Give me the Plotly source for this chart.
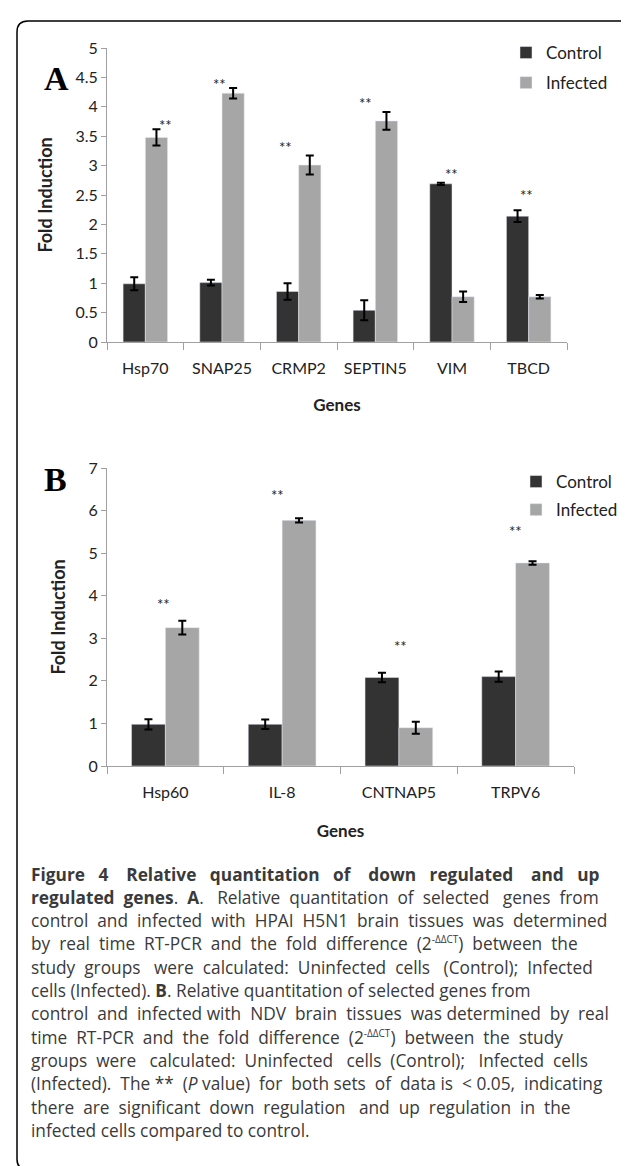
import plotly.graph_objects as go

# ---------------- data ----------------
genes_a = ["Hsp70", "SNAP25", "CRMP2", "SEPTIN5", "VIM", "TBCD"]
control_a = [0.99, 1.01, 0.86, 0.54, 2.69, 2.14]
control_a_err = [0.11, 0.05, 0.14, 0.17, 0.02, 0.10]
infected_a = [3.48, 4.23, 3.01, 3.76, 0.77, 0.77]
infected_a_err = [0.14, 0.09, 0.16, 0.15, 0.09, 0.03]
star_a_y = [3.69, 4.39, 3.32, 4.06, 2.86, 2.50]
star_a_dx = [20, -3, -13, -10, -1, -2]

genes_b = ["Hsp60", "IL-8", "CNTNAP5", "TRPV6"]
control_b = [0.98, 0.98, 2.08, 2.10]
control_b_err = [0.12, 0.11, 0.11, 0.12]
infected_b = [3.25, 5.77, 0.90, 4.77]
infected_b_err = [0.16, 0.05, 0.14, 0.04]
star_b_y = [3.80, 6.36, 2.81, 5.53]
star_b_dx = [-2, -5, 2, 0]

caption_lines = [
    "<b>Figure 4 Relative quantitation of down regulated and up</b>",
    "<b>regulated genes</b>. <b>A</b>. Relative quantitation of selected genes from",
    "control and infected with HPAI H5N1 brain tissues was determined",
    "by real time RT-PCR and the fold difference (2{SUP}) between the",
    "study groups were calculated: Uninfected cells (Control); Infected",
    "cells (Infected). <b>B</b>. Relative quantitation of selected genes from",
    "control and infected with NDV brain tissues was determined by real",
    "time RT-PCR and the fold difference (2{SUP}) between the study",
    "groups were calculated: Uninfected cells (Control); Infected cells",
    "(Infected). The ** (<i>P</i> value) for both sets of data is &lt; 0.05, indicating",
    "there are significant down regulation and up regulation in the",
    "infected cells compared to control.",
]
# extra word spacing per line (imitates the justified caption)
caption_extra_spaces = [19, 10, 9, 10, 9, 0, 8, 9, 10, 8, 10, 0]
SUP_TEXT = '<sup><span style="font-size:10px">-ΔΔCT</span></sup>'

# ---------------- layout helpers ----------------
W, H = 629, 1166
def px(p):
    return p / W
def py(p):
    return 1 - p / H

def justify(line, extra):
    words = line.split(" ")
    gaps = len(words) - 1
    add = [0] * gaps
    for k in range(extra):
        add[int((k + 0.5) * gaps / extra)] += 1
    out = words[0]
    for g in range(gaps):
        out += "\u00a0" * add[g] + " " + words[g + 1]
    return out.replace("{SUP}", SUP_TEXT)

DARK = "#333333"
LIGHT = "#a6a6a6"
AXC = "#a0a0a0"
TXT = "#222222"
FONT = "Lato"

fig = go.Figure()

err_style = dict(type="data", color="black", thickness=2, width=4)

fig.add_trace(go.Bar(x=genes_a, y=control_a, name="Control", marker_color=DARK,
                     error_y=dict(array=control_a_err, **err_style),
                     xaxis="x", yaxis="y", legend="legend", legendgroup="c"))
fig.add_trace(go.Bar(x=genes_a, y=infected_a, name="Infected", marker_color=LIGHT,
                     error_y=dict(array=infected_a_err, **err_style),
                     xaxis="x", yaxis="y", legend="legend", legendgroup="i"))
fig.add_trace(go.Bar(x=genes_b, y=control_b, name="Control", marker_color=DARK,
                     error_y=dict(array=control_b_err, **err_style),
                     xaxis="x2", yaxis="y2", legend="legend2", legendgroup="c2"))
fig.add_trace(go.Bar(x=genes_b, y=infected_b, name="Infected", marker_color=LIGHT,
                     error_y=dict(array=infected_b_err, **err_style),
                     xaxis="x2", yaxis="y2", legend="legend2", legendgroup="i2"))

def xax(standoff):
    return dict(type="category", showline=True, linecolor=AXC, linewidth=1,
                ticks="outside", tickson="boundaries", ticklen=7, tickcolor=AXC,
                showgrid=False, zeroline=False, automargin=False,
                tickfont=dict(family=FONT, size=16, color=TXT), ticklabelstandoff=12,
                title=dict(text="<b>Genes</b>", font=dict(family=FONT, size=17, color=TXT),
                           standoff=standoff))
yax = dict(showline=True, linecolor=AXC, linewidth=1, ticks="outside", ticklen=5,
           tickcolor=AXC, showgrid=False, zeroline=False, automargin=False,
           tickfont=dict(family=FONT, size=16, color=TXT),
           title=dict(text="<b>Fold Induction</b>", font=dict(family=FONT, size=18, color=TXT),
                      standoff=18))

fig.update_layout(
    width=W, height=H, margin=dict(l=0, r=0, t=0, b=0),
    paper_bgcolor="white", plot_bgcolor="white",
    barmode="group", bargap=0.42, bargroupgap=0,
    xaxis=dict(domain=[px(99), px(559)], anchor="y", **xax(22)),
    yaxis=dict(domain=[py(334), py(40)], anchor="x", range=[0, 5], dtick=0.5, **yax),
    xaxis2=dict(domain=[px(99), px(566)], anchor="y2", **xax(24)),
    yaxis2=dict(domain=[py(758), py(460)], anchor="x2", range=[0, 7], dtick=1, **yax),
    legend=dict(x=px(498), y=py(27), xanchor="left", yanchor="top",
                font=dict(family=FONT, size=17, color=TXT), tracegroupgap=5,
                bgcolor="rgba(0,0,0,0)", itemwidth=30),
    legend2=dict(x=px(508), y=py(456), xanchor="left", yanchor="top",
                 font=dict(family=FONT, size=17, color=TXT), tracegroupgap=3,
                 bgcolor="rgba(0,0,0,0)", itemwidth=30),
    showlegend=True,
)

ann = []
for g, yv, dx in zip(genes_a, star_a_y, star_a_dx):
    ann.append(dict(x=g, y=yv, xref="x", yref="y", text="**", showarrow=False,
                    xshift=dx, font=dict(family=FONT, size=15, color=TXT)))
for g, yv, dx in zip(genes_b, star_b_y, star_b_dx):
    ann.append(dict(x=g, y=yv, xref="x2", yref="y2", text="**", showarrow=False,
                    xshift=dx, font=dict(family=FONT, size=15, color=TXT)))

ann.append(dict(x=px(34), y=py(50), xref="paper", yref="paper", text="<b>A</b>",
                showarrow=False, font=dict(family="Liberation Serif", size=34, color="black")))
ann.append(dict(x=px(34), y=py(472), xref="paper", yref="paper", text="<b>B</b>",
                showarrow=False, font=dict(family="Liberation Serif", size=34, color="black")))

cap_top, cap_step = 866, 23.3
for i, (line, extra) in enumerate(zip(caption_lines, caption_extra_spaces)):
    ann.append(dict(x=px(21), y=py(cap_top + i * cap_step), xref="paper", yref="paper",
                    text=justify(line, extra), showarrow=False, xanchor="left", yanchor="middle",
                    font=dict(family="Open Sans", size=17.3, color="#3a3a3a")))
fig.update_layout(annotations=ann)

# rounded border frame
x0, y0, x1, y1, r = 9, 13, 625, 1162, 11
pts = lambda a, b: f"{px(a):.5f},{py(b):.5f}"
path = (f"M {pts(x0 + r, y0)} L {pts(x1 - r, y0)} Q {pts(x1, y0)} {pts(x1, y0 + r)} "
        f"L {pts(x1, y1 - r)} Q {pts(x1, y1)} {pts(x1 - r, y1)} "
        f"L {pts(x0 + r, y1)} Q {pts(x0, y1)} {pts(x0, y1 - r)} "
        f"L {pts(x0, y0 + r)} Q {pts(x0, y0)} {pts(x0 + r, y0)} Z")
fig.add_shape(type="path", path=path, xref="paper", yref="paper",
              line=dict(color="black", width=1.5), fillcolor="rgba(0,0,0,0)")

fig.write_html("out.html")
